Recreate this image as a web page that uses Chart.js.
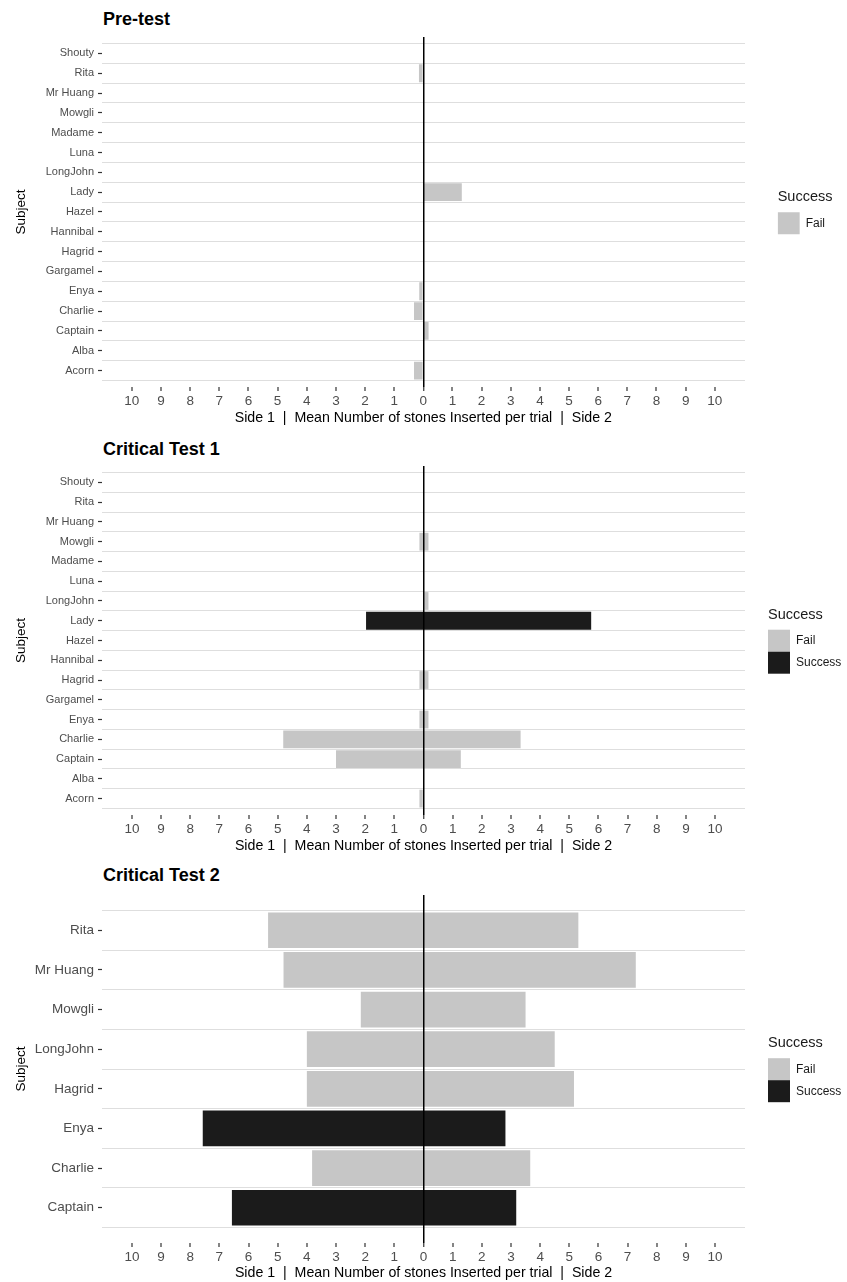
<!DOCTYPE html>
<html>
<head>
<meta charset="utf-8">
<script src="https://cdn.jsdelivr.net/npm/chart.js@4.4.0/dist/chart.umd.min.js"></script>
<style>
  html, body { margin: 0; padding: 0; background: #ffffff; }
  body { width: 847px; height: 1282px; position: relative; overflow: hidden;
         font-family: "Liberation Sans", Arial, Helvetica, sans-serif; }
  canvas { position: absolute; left: 0; }
  .ptitle { position: absolute; left: 103px; font-weight: bold; font-size: 18px;
            line-height: 18px; color: #000; white-space: nowrap; }
</style>
</head>
<body>
<div class="ptitle" style="top:10px">Pre-test</div>
<div class="ptitle" style="top:440px">Critical Test 1</div>
<div class="ptitle" style="top:866px">Critical Test 2</div>
<canvas id="c1" width="847" height="430" style="top:0px"></canvas>
<canvas id="c2" width="847" height="428" style="top:430px"></canvas>
<canvas id="c3" width="847" height="424" style="top:858px"></canvas>
<script>
// ---------------- DATA ----------------
const statusNames = ["Fail", "Success"];
const xTickValues = [-10, -9, -8, -7, -6, -5, -4, -3, -2, -1, 0, 1, 2, 3, 4, 5, 6, 7, 8, 9, 10];
const xTitle = "Side 1  |  Mean Number of stones Inserted per trial  |  Side 2";
const yTitle = "Subject";
const legendTitle = "Success";

// Pre-test (bottom to top)
const preSubjects = ["Acorn", "Alba", "Captain", "Charlie", "Enya", "Gargamel", "Hagrid", "Hannibal",
  "Hazel", "Lady", "LongJohn", "Luna", "Madame", "Mowgli", "Mr Huang", "Rita", "Shouty"];
const preSide1 = [0.32, 0, 0, 0.32, 0.14, 0, 0, 0, 0, 0, 0, 0, 0, 0, 0, 0.15, 0];
const preSide2 = [0, 0, 0.18, 0, 0, 0, 0, 0, 0, 1.32, 0, 0, 0, 0, 0, 0, 0];
const preSuccess = ["Fail", "Fail", "Fail", "Fail", "Fail", "Fail", "Fail", "Fail",
  "Fail", "Fail", "Fail", "Fail", "Fail", "Fail", "Fail", "Fail", "Fail"];

// Critical Test 1 (bottom to top)
const ct1Subjects = ["Acorn", "Alba", "Captain", "Charlie", "Enya", "Gargamel", "Hagrid", "Hannibal",
  "Hazel", "Lady", "LongJohn", "Luna", "Madame", "Mowgli", "Mr Huang", "Rita", "Shouty"];
const ct1Side1 = [0.14, 0, 3.0, 4.81, 0.14, 0, 0.14, 0, 0, 1.97, 0, 0, 0, 0.14, 0, 0, 0];
const ct1Side2 = [0, 0, 1.28, 3.33, 0.17, 0, 0.17, 0, 0, 5.75, 0.17, 0, 0, 0.17, 0, 0, 0];
const ct1Success = ["Fail", "Fail", "Fail", "Fail", "Fail", "Fail", "Fail", "Fail",
  "Fail", "Success", "Fail", "Fail", "Fail", "Fail", "Fail", "Fail", "Fail"];

// Critical Test 2 (bottom to top)
const ct2Subjects = ["Captain", "Charlie", "Enya", "Hagrid", "LongJohn", "Mowgli", "Mr Huang", "Rita"];
const ct2Side1 = [6.57, 3.82, 7.57, 4.0, 4.0, 2.15, 4.8, 5.33];
const ct2Side2 = [3.18, 3.66, 2.81, 5.16, 4.5, 3.5, 7.28, 5.31];
const ct2Success = ["Success", "Fail", "Success", "Fail", "Fail", "Fail", "Fail", "Fail"];

// ---------------- STYLE ----------------
const statusColors = { Fail: "#c6c6c6", Success: "#1b1b1b" };
const FONT = "'Liberation Sans', Arial, Helvetica, sans-serif";
Chart.defaults.font.family = FONT;
Chart.defaults.animation = false;

function makePanel(id, subjects, side1, side2, success, L) {
  const n = subjects.length;
  const lo = -0.5 - L.yExtra, hi = n - 0.5 + L.yExtra;
  const present = statusNames.filter(s => success.includes(s));
  const datasets = present.map(s => ({
    label: s,
    data: subjects.map((name, i) => ({ x: [-side1[i], side2[i]], y: i, st: success[i] }))
                  .filter(d => d.st === s),
    backgroundColor: statusColors[s],
    borderWidth: 0,
    grouped: false,
    categoryPercentage: 1,
    barPercentage: 0.9,
    xAxisID: "x",
    yAxisID: "y"
  }));
  const sepValues = [];
  for (let i = 0; i <= n; i++) sepValues.push(i - 0.5);

  return new Chart(document.getElementById(id), {
    type: "bar",
    data: { datasets },
    options: {
      indexAxis: "y",
      responsive: false,
      animation: false,
      events: [],
      layout: { padding: { left: 9, right: L.padRight, top: L.padTop, bottom: 0 } },
      plugins: {
        tooltip: { enabled: false },
        legend: {
          display: true,
          position: "right",
          align: "center",
          fullSize: false,
          maxWidth: L.legendMaxWidth,
          title: {
            display: true, text: legendTitle, position: "start", color: "#1a1a1a",
            font: { size: 14.5, family: FONT }, padding: { top: 0, bottom: 5 }
          },
          labels: {
            boxWidth: 22, boxHeight: 22, padding: 0, color: "#1a1a1a",
            font: { size: 12, family: FONT }
          }
        }
      },
      scales: {
        x: {
          type: "linear", position: "bottom", min: -11.025, max: 11.025,
          offset: false,
          afterBuildTicks: s => { s.ticks = xTickValues.map(v => ({ value: v })); },
          afterFit: s => { s.height = L.xHeight; },
          ticks: {
            autoSkip: false, maxRotation: 0, padding: 2, color: "#4d4d4d",
            font: { size: 13.5, family: FONT },
            callback: v => String(Math.abs(v))
          },
          grid: {
            z: 1, offset: false,
            color: c => (c.tick && c.tick.value === 0) ? "#000000" : "rgba(0,0,0,0)",
            lineWidth: c => (c.tick && c.tick.value === 0) ? 1.5 : 0,
            tickColor: "#333333", tickLength: 4, tickWidth: 1.2, drawTicks: true
          },
          border: { display: false },
          title: {
            display: true, text: xTitle, color: "#000000",
            font: { size: 14.2, family: FONT }, padding: { top: 2, bottom: L.xTitlePadBottom }
          }
        },
        y: {
          type: "linear", position: "left", min: lo, max: hi, offset: false,
          afterBuildTicks: s => { s.ticks = subjects.map((name, i) => ({ value: i })); },
          afterFit: s => { s.width = 93; },
          ticks: {
            autoSkip: false, padding: 4, color: "#4d4d4d",
            font: { size: L.yTickSize, family: FONT },
            callback: v => subjects[v]
          },
          grid: {
            offset: false, drawOnChartArea: false, drawTicks: true,
            tickLength: 4, tickColor: "#333333", tickWidth: 1.2
          },
          border: { display: false },
          title: {
            display: true, text: yTitle, color: "#000000",
            font: { size: 13.5, family: FONT }, padding: { top: 4, bottom: 4 }
          }
        },
        yg: {
          type: "linear", position: "right", min: lo, max: hi, offset: false,
          afterBuildTicks: s => { s.ticks = sepValues.map(v => ({ value: v })); },
          afterFit: s => { s.width = L.legendGap; },
          ticks: { display: false },
          grid: { offset: false, color: "#dedede", lineWidth: 1, drawTicks: false },
          border: { display: false }
        }
      }
    }
  });
}

makePanel("c1", preSubjects, preSide1, preSide2, preSuccess,
  { padTop: 37, xHeight: 43, yExtra: 0.33, legendGap: 33, padRight: 12, legendMaxWidth: undefined,
    yTickSize: 11, xTitlePadBottom: 3 });
makePanel("c2", ct1Subjects, ct1Side1, ct1Side2, ct1Success,
  { padTop: 36, xHeight: 43, yExtra: 0.33, legendGap: 23, padRight: 0, legendMaxWidth: 79,
    yTickSize: 11, xTitlePadBottom: 3 });
makePanel("c3", ct2Subjects, ct2Side1, ct2Side2, ct2Success,
  { padTop: 37, xHeight: 39, yExtra: 0.39, legendGap: 23, padRight: 0, legendMaxWidth: 79,
    yTickSize: 13.5, xTitlePadBottom: 0 });
</script>
</body>
</html>
